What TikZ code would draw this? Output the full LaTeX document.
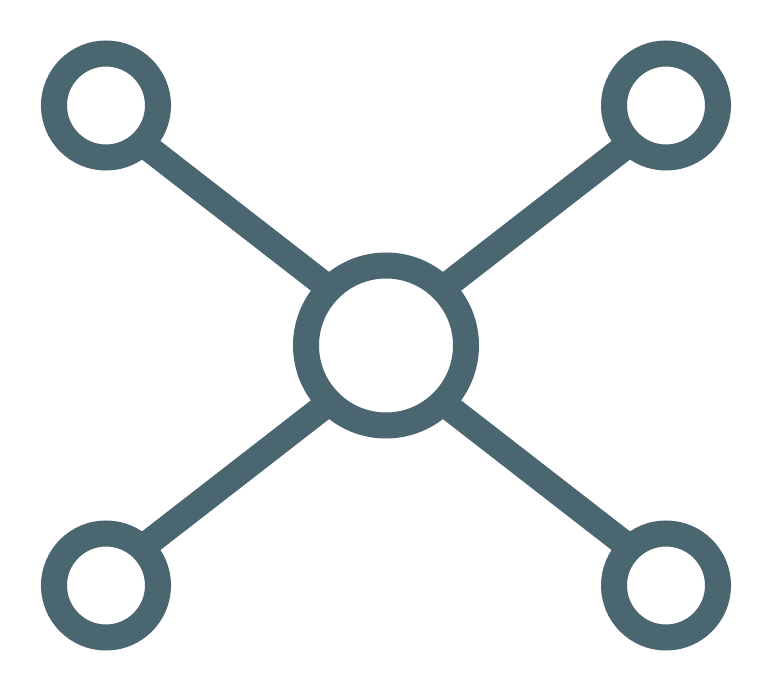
\documentclass[tikz,border=0pt]{standalone}
\usepackage{tikz}

\definecolor{hubgray}{RGB}{74,102,112}

\begin{document}
\begin{tikzpicture}
[x=1pt,y=-1pt,hub/.style={draw=hubgray,fill=white,circle,line width=26pt,inner sep=0pt,minimum size=160pt},leaf/.style={draw=hubgray,fill=white,circle,line width=26pt,inner sep=0pt,minimum size=104pt},spoke/.style={draw=hubgray,line width=26pt},]

%Page size
\useasboundingbox (0,0) rectangle (772,692);

%Spoke ends (spokes run a little off the centres)
\coordinate (tl) at (106,115.2);
\coordinate (tr) at (666,115.2);
\coordinate (bl) at (106,575.8);
\coordinate (br) at (666,575.8);
\coordinate (ctop) at (386,332.5);
\coordinate (cbot) at (386,358.5);

%Drawing spokes
\draw[spoke] (tl) -- (ctop);
\draw[spoke] (tr) -- (ctop);
\draw[spoke] (bl) -- (cbot);
\draw[spoke] (br) -- (cbot);

%Placing circles on top
\node (C) at (386,345.5)[hub] {};
\node (TL) at (106,105.5)[leaf] {};
\node (TR) at (666,105.5)[leaf] {};
\node (BL) at (106,585.5)[leaf] {};
\node (BR) at (666,585.5)[leaf] {};

\end{tikzpicture}
\end{document}
